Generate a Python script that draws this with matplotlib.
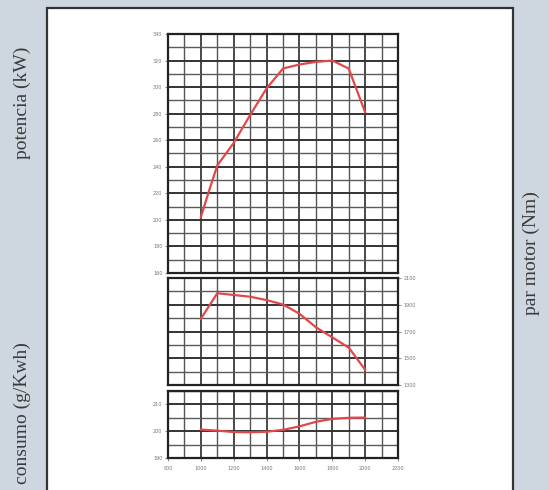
import matplotlib.pyplot as plt
from matplotlib.patches import Rectangle

# regimen del motor (rpm)
rpm_pot = [1000, 1050, 1100, 1200, 1300, 1400, 1500, 1600, 1700, 1800, 1900, 2000]
potencia = [202, 222, 241, 258, 279, 299, 314, 317, 319, 320, 314, 281]
rpm = [1000, 1100, 1200, 1300, 1400, 1500, 1600, 1700, 1800, 1900, 2000]
par_motor = [1795, 1986, 1973, 1960, 1935, 1902, 1833, 1732, 1656, 1580, 1414]
consumo = [200.6, 200.2, 199.7, 199.6, 199.8, 200.5, 201.8, 203.5, 204.6, 205.0, 205.1]

x_ticks = [800, 1000, 1200, 1400, 1600, 1800, 2000, 2200]
pot_ticks = [160, 180, 200, 220, 240, 260, 280, 300, 320, 340]
par_ticks = [1300, 1500, 1700, 1900, 2100]
cons_ticks = [190, 200, 210]

fondo = "#ced7df"
rojo = "#e2474a"

fig = plt.figure(figsize=(5.49, 4.90), dpi=100, facecolor=fondo)

# recuadro blanco (detras de los ejes)
fig.patches.append(Rectangle((47 / 549, -0.05), (513 - 47) / 549, 1 - 8 / 490 + 0.05,
                             transform=fig.transFigure, facecolor="white",
                             edgecolor="#333333", lw=1.6, zorder=-5))


def panel(y_top, y_bot, ylim, yticks, minor_step, lado):
    ax = fig.add_axes([168 / 549, 1 - y_bot / 490, 230 / 549, (y_bot - y_top) / 490])
    ax.set_facecolor("white")
    ax.set_xlim(800, 2200)
    ax.set_ylim(*ylim)
    # rejilla
    for v in range(800, 2201, 100):
        ax.axvline(v, color="#3a3a3a" if v % 200 == 0 else "#555555",
                   lw=1.3 if v % 200 == 0 else 1.0, zorder=1)
    y = ylim[0]
    while y <= ylim[1] + 1e-9:
        mayor = y in yticks
        ax.axhline(y, color="#333333" if mayor else "#5a5a5a", lw=1.4 if mayor else 1.0, zorder=1)
        y += minor_step
    for s in ax.spines.values():
        s.set_color("#222222")
        s.set_linewidth(1.6)
    ax.set_yticks(yticks)
    ax.set_yticklabels([str(t) for t in yticks])
    ax.tick_params(axis="both", labelsize=3.5, colors="#777777", length=2, width=0.6, pad=2)
    if lado == "right":
        ax.yaxis.tick_right()
    ax.set_xticks([])
    return ax


ax1 = panel(34, 273, (160, 340), pot_ticks, 10, "left")
ax1.plot(rpm_pot, potencia, color=rojo, lw=1.6, zorder=3)

ax2 = panel(278, 385, (1300, 2100), par_ticks, 100, "right")
ax2.plot(rpm, par_motor, color=rojo, lw=1.6, zorder=3)

ax3 = panel(391, 458, (190, 215), cons_ticks, 5, "left")
ax3.plot(rpm, consumo, color=rojo, lw=1.6, zorder=3)
ax3.set_xticks(x_ticks)
ax3.set_xticklabels([str(t) for t in x_ticks])
ax3.tick_params(axis="x", labelsize=3.5, colors="#777777", length=2, pad=4)

fuente = dict(family="Liberation Serif", fontsize=14, color="#3a3a3a")
fig.text(22 / 549, 1 - 103 / 490, "potencia (kW)", rotation=90, ha="center", va="center", **fuente)
fig.text(22 / 549, 1 - 413 / 490, "consumo (g/Kwh)", rotation=90, ha="center", va="center", **fuente)
fig.text(531 / 549, 1 - 253 / 490, "par motor (Nm)", rotation=90, ha="center", va="center", **fuente)

fig.savefig("out.png", dpi=100, facecolor=fondo)
